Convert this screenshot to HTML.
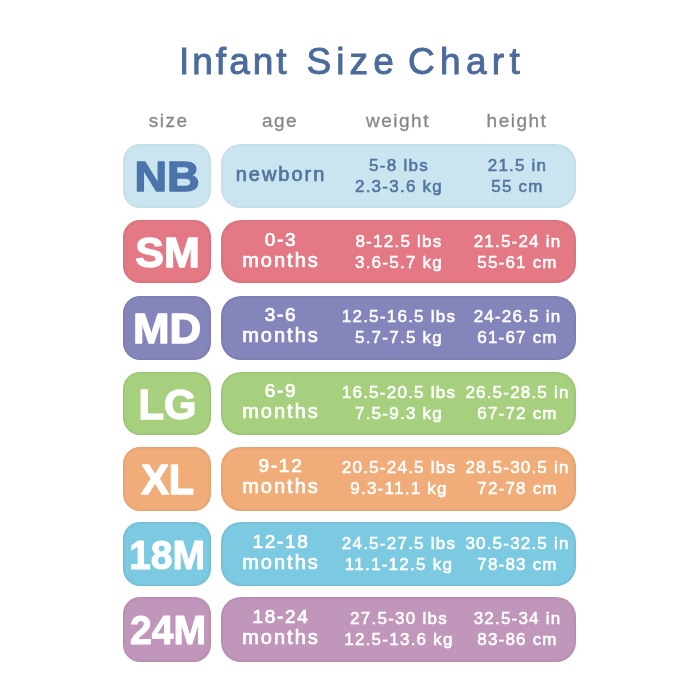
<!DOCTYPE html>
<html><head><meta charset="utf-8"><title>Infant Size Chart</title>
<style>
html,body{margin:0;padding:0;}
body{width:700px;height:700px;background:#fff;position:relative;overflow:hidden;font-family:"Liberation Sans",Arial,sans-serif;}
.abs{position:absolute;white-space:nowrap;}
.title{top:40px;font-size:37px;color:#4a6b9c;letter-spacing:4.2px;line-height:44px;-webkit-text-stroke:0.9px #4b6a9b;}
.hd{top:110px;font-size:19px;line-height:22px;color:#878787;-webkit-text-stroke:0.3px #878787;letter-spacing:1.5px;text-align:center;width:120px;}
.bx{position:absolute;box-shadow:inset 0 0 3px 0.5px rgba(40,20,40,0.13);}
.sz{left:123px;width:88px;border-radius:17px;}
.mn{left:221px;width:355px;border-radius:20px;}
.row{position:absolute;left:221px;width:355px;height:63px;}
.c{position:absolute;text-align:center;white-space:nowrap;font-size:17px;line-height:21px;-webkit-text-stroke:0.55px currentColor;}
.age{left:0px;width:120px;font-size:20px;line-height:21px;letter-spacing:2.0px;-webkit-text-stroke:0.7px currentColor;}
.a1{font-size:19px;letter-spacing:1.7px;position:relative;top:0.7px;}
.wt{left:113px;width:130px;letter-spacing:1.25px;}
.ht{left:234px;width:125px;letter-spacing:1.2px;}
svg{overflow:visible;}
#w{position:absolute;left:0;top:0;width:700px;height:700px;filter:blur(0.6px);}
</style></head><body><div id="w">
<div class="abs title" style="left:179px;letter-spacing:3px">Infant</div>
<div class="abs title" style="left:306.5px;letter-spacing:5.1px">Size</div>
<div class="abs title" style="left:408px;letter-spacing:5.3px">Chart</div>
<div class="abs hd" style="left:108.6px">size</div>
<div class="abs hd" style="left:220px">age</div>
<div class="abs hd" style="left:338px">weight</div>
<div class="abs hd" style="left:457px">height</div>
<div class="bx sz" style="top:144px;height:64px;background:#cbe5f0;box-shadow:inset 0 0 3px 0.5px rgba(40,60,90,0.08)"></div><div class="bx mn" style="top:144px;height:64px;background:#cbe5f0;box-shadow:inset 0 0 3px 0.5px rgba(40,60,90,0.08)"></div>
<svg class="abs" style="left:123px;top:145px" width="88" height="63" viewBox="0 0 88 63"><text x="0" y="0" transform="translate(44 30.2) scale(1.05 1)" text-anchor="middle" font-family="Liberation Sans, Arial, sans-serif" font-weight="bold" font-size="43" fill="#4b74ab" stroke="#4b74ab" stroke-width="1.4" stroke-linejoin="round" dy="15.39">NB</text></svg>
<div class="row" style="top:145px;color:#52749f"><div class="c age" style="top:19px">newborn</div><div class="c wt" style="top:10px">5-8 lbs<br>2.3-3.6 kg</div><div class="c ht" style="top:10px">21.5 in<br>55 cm</div></div>
<div class="bx sz" style="top:219.5px;height:63.5px;background:#e47985"></div><div class="bx mn" style="top:219.5px;height:63.5px;background:#e47985"></div>
<svg class="abs" style="left:123px;top:221px" width="88" height="63" viewBox="0 0 88 63"><text x="0" y="0" transform="translate(44.5 30.5) scale(1.0 1)" text-anchor="middle" font-family="Liberation Sans, Arial, sans-serif" font-weight="bold" font-size="43" fill="#ffffff" stroke="#ffffff" stroke-width="1.4" stroke-linejoin="round" dy="15.39">SM</text></svg>
<div class="row" style="top:221px;color:#ffffff"><div class="c age" style="top:7.5px"><span class="a1">0-3</span><br>months</div><div class="c wt" style="top:10px">8-12.5 lbs<br>3.6-5.7 kg</div><div class="c ht" style="top:10px">21.5-24 in<br>55-61 cm</div></div>
<div class="bx sz" style="top:295.5px;height:64.5px;background:#8485bb"></div><div class="bx mn" style="top:295.5px;height:64.5px;background:#8485bb"></div>
<svg class="abs" style="left:123px;top:296px" width="88" height="63" viewBox="0 0 88 63"><text x="0" y="0" transform="translate(44 31.3) scale(1.02 1)" text-anchor="middle" font-family="Liberation Sans, Arial, sans-serif" font-weight="bold" font-size="43" fill="#ffffff" stroke="#ffffff" stroke-width="1.4" stroke-linejoin="round" dy="15.39">MD</text></svg>
<div class="row" style="top:296px;color:#ffffff"><div class="c age" style="top:7.5px"><span class="a1">3-6</span><br>months</div><div class="c wt" style="top:10px">12.5-16.5 lbs<br>5.7-7.5 kg</div><div class="c ht" style="top:10px">24-26.5 in<br>61-67 cm</div></div>
<div class="bx sz" style="top:372px;height:63px;background:#a7d07e"></div><div class="bx mn" style="top:372px;height:63px;background:#a7d07e"></div>
<svg class="abs" style="left:123px;top:372px" width="88" height="63" viewBox="0 0 88 63"><text x="0" y="0" transform="translate(44.5 31.5) scale(0.97 1)" text-anchor="middle" font-family="Liberation Sans, Arial, sans-serif" font-weight="bold" font-size="43" fill="#ffffff" stroke="#ffffff" stroke-width="1.4" stroke-linejoin="round" dy="15.39">LG</text></svg>
<div class="row" style="top:372px;color:#ffffff"><div class="c age" style="top:7.5px"><span class="a1">6-9</span><br>months</div><div class="c wt" style="top:10px">16.5-20.5 lbs<br>7.5-9.3 kg</div><div class="c ht" style="top:10px">26.5-28.5 in<br>67-72 cm</div></div>
<div class="bx sz" style="top:446.5px;height:64px;background:#f0ad79"></div><div class="bx mn" style="top:446.5px;height:64px;background:#f0ad79"></div>
<svg class="abs" style="left:123px;top:447px" width="88" height="63" viewBox="0 0 88 63"><text x="0" y="0" transform="translate(44.7 31.8) scale(0.96 1)" text-anchor="middle" font-family="Liberation Sans, Arial, sans-serif" font-weight="bold" font-size="43" fill="#ffffff" stroke="#ffffff" stroke-width="1.4" stroke-linejoin="round" dy="15.39">XL</text></svg>
<div class="row" style="top:447px;color:#ffffff"><div class="c age" style="top:7.5px"><span class="a1">9-12</span><br>months</div><div class="c wt" style="top:10px">20.5-24.5 lbs<br>9.3-11.1 kg</div><div class="c ht" style="top:10px">28.5-30.5 in<br>72-78 cm</div></div>
<div class="bx sz" style="top:521.5px;height:64.5px;background:#7ccae1"></div><div class="bx mn" style="top:521.5px;height:64.5px;background:#7ccae1"></div>
<svg class="abs" style="left:123px;top:523px" width="88" height="63" viewBox="0 0 88 63"><text x="0" y="0" transform="translate(44 31.5) scale(0.98 1)" text-anchor="middle" font-family="Liberation Sans, Arial, sans-serif" font-weight="bold" font-size="40" fill="#ffffff" stroke="#ffffff" stroke-width="1.0" stroke-linejoin="round" dy="14.32">18M</text></svg>
<div class="row" style="top:523px;color:#ffffff"><div class="c age" style="top:7.5px"><span class="a1">12-18</span><br>months</div><div class="c wt" style="top:10px">24.5-27.5 lbs<br>11.1-12.5 kg</div><div class="c ht" style="top:10px">30.5-32.5 in<br>78-83 cm</div></div>
<div class="bx sz" style="top:596.5px;height:65px;background:#c196bb"></div><div class="bx mn" style="top:596.5px;height:65px;background:#c196bb"></div>
<svg class="abs" style="left:123px;top:598px" width="88" height="63" viewBox="0 0 88 63"><text x="0" y="0" transform="translate(45 32.0) scale(0.98 1)" text-anchor="middle" font-family="Liberation Sans, Arial, sans-serif" font-weight="bold" font-size="40" fill="#ffffff" stroke="#ffffff" stroke-width="1.0" stroke-linejoin="round" dy="14.32">24M</text></svg>
<div class="row" style="top:598px;color:#ffffff"><div class="c age" style="top:7.5px"><span class="a1">18-24</span><br>months</div><div class="c wt" style="top:10px">27.5-30 lbs<br>12.5-13.6 kg</div><div class="c ht" style="top:10px">32.5-34 in<br>83-86 cm</div></div>
</div></body></html>
